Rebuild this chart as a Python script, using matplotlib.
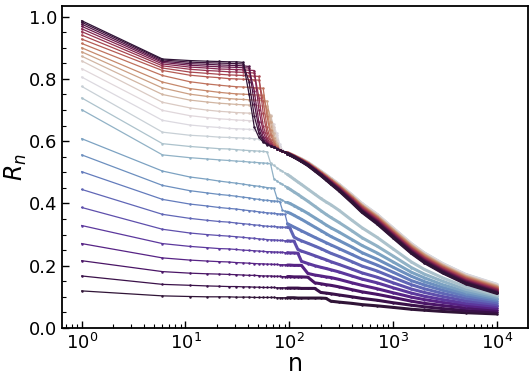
import numpy as np
import matplotlib
matplotlib.use("Agg")
import matplotlib.pyplot as plt
from matplotlib.ticker import MultipleLocator, LogLocator, NullFormatter, FormatStrFormatter

# sample sizes n
n_values = [1, 6, 11, 16, 21, 26, 31, 36, 41, 46, 51, 56, 61, 66, 71, 76, 81, 86, 91, 96,
            101, 111, 121, 131, 151, 176, 201, 226, 251, 301, 401, 501, 701, 1001, 1501,
            2001, 3001, 5001, 10001]

# R_n curves, bottom (dark purple) to top (dark)
r00 = [.119, .103, .101, .100, .100, .100, .099, .099, .099, .098,
       .098, .098, .098, .098, .098, .097, .097, .097, .097, .097,
       .097, .097, .096, .096, .096, .096, .096, .095, .086, .083,
       .079, .075, .071, .066, .060, .057, .053, .049, .045]
r01 = [.167, .140, .137, .135, .134, .133, .133, .132, .132, .131,
       .131, .130, .130, .130, .130, .129, .129, .129, .129, .128,
       .128, .128, .128, .127, .127, .127, .114, .112, .110, .106,
       .100, .095, .089, .081, .073, .068, .062, .056, .051]
r02 = [.216, .181, .176, .174, .173, .172, .171, .170, .169, .169,
       .168, .167, .167, .167, .166, .166, .166, .165, .165, .165,
       .165, .164, .164, .164, .163, .145, .142, .139, .137, .132,
       .123, .116, .108, .098, .086, .079, .072, .064, .057]
r03 = [.271, .225, .218, .215, .213, .212, .210, .209, .208, .207,
       .206, .206, .205, .205, .204, .204, .203, .203, .203, .202,
       .202, .201, .201, .201, .175, .170, .167, .164, .162, .156,
       .145, .137, .126, .113, .099, .091, .082, .072, .063]
r04 = [.329, .271, .262, .258, .255, .254, .252, .250, .249, .248,
       .247, .246, .245, .245, .244, .244, .243, .243, .242, .242,
       .241, .241, .240, .214, .207, .200, .195, .191, .187, .180,
       .167, .157, .145, .129, .112, .102, .091, .079, .069]
r05 = [.387, .317, .305, .300, .297, .295, .293, .291, .289, .288,
       .286, .285, .284, .283, .283, .282, .281, .281, .280, .280,
       .279, .279, .252, .247, .240, .232, .225, .219, .213, .204,
       .189, .177, .163, .145, .125, .114, .101, .087, .075]
r06 = [.445, .365, .352, .346, .342, .340, .337, .335, .333, .331,
       .330, .328, .327, .326, .326, .325, .324, .324, .323, .323,
       .322, .292, .285, .280, .272, .263, .255, .247, .240, .230,
       .213, .199, .183, .162, .139, .126, .111, .095, .081]
r07 = [.502, .413, .398, .392, .387, .384, .382, .379, .377, .375,
       .373, .371, .370, .369, .368, .367, .366, .366, .365, .335,
       .331, .324, .318, .312, .302, .291, .282, .274, .267, .255,
       .236, .221, .202, .179, .152, .138, .121, .103, .087]
r08 = [.556, .458, .441, .434, .429, .426, .423, .420, .418, .415,
       .413, .411, .410, .409, .408, .407, .406, .378, .375, .372,
       .369, .362, .355, .349, .337, .324, .313, .303, .294, .281,
       .260, .242, .221, .195, .166, .149, .130, .110, .092]
r09 = [.608, .504, .485, .478, .472, .468, .465, .462, .459, .457,
       .455, .453, .451, .450, .449, .418, .414, .410, .406, .403,
       .400, .393, .386, .380, .368, .354, .342, .331, .322, .308,
       .284, .265, .241, .212, .179, .161, .139, .117, .097]
r10 = [.701, .556, .547, .543, .540, .538, .536, .535, .533, .532,
       .531, .530, .529, .527, .480, .472, .466, .461, .456, .451,
       .446, .437, .429, .421, .407, .391, .377, .365, .355, .339,
       .312, .290, .263, .231, .194, .173, .150, .124, .102]
r11 = [.739, .592, .583, .579, .576, .575, .573, .571, .570, .569,
       .568, .567, .566, .530, .522, .515, .509, .503, .498, .493,
       .488, .478, .469, .461, .446, .430, .416, .405, .396, .378,
       .346, .322, .291, .254, .212, .188, .161, .132, .106]
r12 = [.776, .629, .619, .616, .613, .612, .611, .610, .609, .608,
       .607, .606, .605, .604, .603, .600, .585, .572, .566, .563,
       .560, .554, .548, .543, .532, .517, .504, .492, .481, .462,
       .428, .400, .365, .321, .271, .241, .207, .172, .140]
r13 = [.806, .667, .652, .647, .644, .641, .640, .639, .638, .637,
       .636, .635, .634, .633, .632, .625, .590, .572, .566, .563,
       .560, .554, .548, .543, .532, .517, .504, .492, .480, .461,
       .427, .399, .364, .320, .270, .240, .206, .171, .139]
r14 = [.833, .699, .682, .676, .672, .670, .668, .667, .666, .665,
       .664, .663, .662, .661, .655, .620, .580, .569, .566, .563,
       .560, .554, .548, .542, .531, .516, .503, .491, .480, .460,
       .426, .398, .363, .319, .269, .239, .205, .170, .138]
r15 = [.858, .725, .707, .700, .696, .694, .692, .691, .690, .689,
       .688, .687, .686, .685, .645, .605, .576, .569, .566, .563,
       .559, .553, .547, .542, .531, .515, .502, .490, .479, .459,
       .425, .396, .361, .317, .267, .237, .203, .168, .136]
r16 = [.873, .750, .732, .726, .722, .720, .718, .717, .716, .715,
       .714, .713, .712, .680, .625, .595, .572, .569, .566, .562,
       .559, .553, .547, .541, .530, .515, .501, .489, .477, .458,
       .423, .394, .359, .315, .265, .235, .201, .166, .134]
r17 = [.887, .771, .751, .744, .740, .737, .735, .734, .733, .732,
       .731, .730, .729, .660, .610, .588, .572, .569, .565, .562,
       .559, .553, .546, .541, .529, .514, .500, .488, .476, .456,
       .421, .392, .357, .313, .263, .233, .199, .164, .132]
r18 = [.900, .790, .769, .762, .757, .754, .752, .751, .750, .749,
       .748, .747, .700, .635, .600, .583, .572, .569, .565, .562,
       .559, .552, .546, .540, .529, .513, .499, .487, .475, .455,
       .420, .391, .355, .311, .261, .231, .197, .162, .130]
r19 = [.914, .811, .791, .784, .780, .777, .775, .774, .773, .772,
       .771, .770, .680, .620, .595, .580, .572, .569, .565, .562,
       .558, .552, .546, .540, .528, .512, .498, .485, .474, .453,
       .418, .389, .353, .308, .258, .228, .195, .160, .128]
r20 = [.928, .827, .812, .807, .804, .801, .800, .799, .798, .797,
       .796, .730, .645, .605, .588, .578, .572, .569, .565, .562,
       .558, .552, .545, .539, .527, .511, .497, .484, .472, .452,
       .416, .387, .351, .306, .256, .226, .193, .158, .126]
r21 = [.941, .835, .822, .818, .815, .813, .812, .811, .810, .809,
       .808, .690, .625, .598, .584, .577, .572, .568, .565, .561,
       .558, .551, .545, .539, .527, .510, .496, .483, .471, .451,
       .414, .385, .349, .304, .254, .224, .191, .156, .124]
r22 = [.952, .842, .831, .827, .825, .823, .822, .821, .820, .819,
       .740, .650, .610, .592, .582, .577, .572, .568, .565, .561,
       .558, .551, .544, .538, .526, .510, .495, .482, .470, .449,
       .413, .383, .346, .302, .252, .222, .188, .153, .122]
r23 = [.961, .848, .838, .835, .832, .831, .830, .829, .828, .827,
       .700, .630, .600, .588, .581, .576, .572, .568, .565, .561,
       .557, .551, .544, .537, .525, .509, .494, .481, .468, .447,
       .411, .380, .344, .299, .249, .219, .186, .151, .120]
r24 = [.969, .853, .844, .841, .839, .838, .837, .836, .835, .760,
       .660, .615, .595, .586, .581, .576, .572, .568, .564, .561,
       .557, .550, .543, .537, .524, .508, .493, .480, .467, .446,
       .409, .378, .342, .297, .247, .217, .184, .149, .117]
r25 = [.976, .857, .849, .847, .845, .844, .843, .842, .840, .720,
       .640, .605, .592, .585, .580, .576, .572, .568, .564, .560,
       .557, .550, .543, .536, .524, .507, .492, .478, .466, .444,
       .407, .376, .340, .295, .245, .215, .182, .147, .115]
r26 = [.982, .861, .854, .852, .851, .850, .849, .848, .790, .680,
       .625, .600, .590, .584, .580, .576, .572, .568, .564, .560,
       .556, .549, .542, .536, .523, .506, .491, .477, .464, .443,
       .405, .374, .337, .292, .242, .212, .179, .144, .113]
r27 = [.987, .864, .859, .857, .856, .855, .855, .853, .750, .645,
       .612, .597, .589, .584, .580, .576, .572, .568, .564, .560,
       .556, .549, .542, .535, .522, .505, .490, .476, .463, .441,
       .403, .372, .335, .290, .240, .210, .177, .142, .111]

curves = [r00, r01, r02, r03, r04, r05, r06, r07, r08, r09, r10, r11, r12, r13,
          r14, r15, r16, r17, r18, r19, r20, r21, r22, r23, r24, r25, r26, r27]

fig = plt.figure(figsize=(5.32, 3.8), dpi=100)
ax = fig.add_axes([0.1165, 0.137, 0.876, 0.847])

cmap = plt.get_cmap("twilight_shifted")
colors = cmap(np.linspace(0, 1, len(curves)))
n = np.array(n_values)
thick = n >= 96

for r, c in zip(curves, colors):
    r = np.array(r)
    ax.plot(n, r, "-", color=c, lw=0.9, marker="o", ms=1.8, mew=0)
    ax.plot(n[thick], r[thick], "-", color=c, lw=2.2, solid_capstyle="round")

ax.set_xscale("log")
ax.set_xlim(10 ** -0.19, 10 ** 4.3)
ax.set_ylim(0, 1.034)

ax.yaxis.set_major_locator(MultipleLocator(0.2))
ax.yaxis.set_minor_locator(MultipleLocator(0.05))
ax.xaxis.set_major_locator(LogLocator(base=10, numticks=10))
ax.xaxis.set_minor_locator(LogLocator(base=10, subs=np.arange(2, 10), numticks=20))
ax.xaxis.set_minor_formatter(NullFormatter())
ax.yaxis.set_major_formatter(FormatStrFormatter("%.1f"))

ax.tick_params(which="both", direction="in", top=False, right=False, labelsize=13)
ax.tick_params(which="major", length=5, width=1)
ax.tick_params(which="minor", length=3, width=0.8)
for s in ax.spines.values():
    s.set_linewidth(1.3)

ax.set_xlabel("n", fontsize=17)
ax.set_ylabel("$R_n$", fontsize=17)
ax.xaxis.set_label_coords(0.5, -0.074)
ax.yaxis.set_label_coords(-0.07, 0.5)

fig.savefig("out.png", dpi=100)
